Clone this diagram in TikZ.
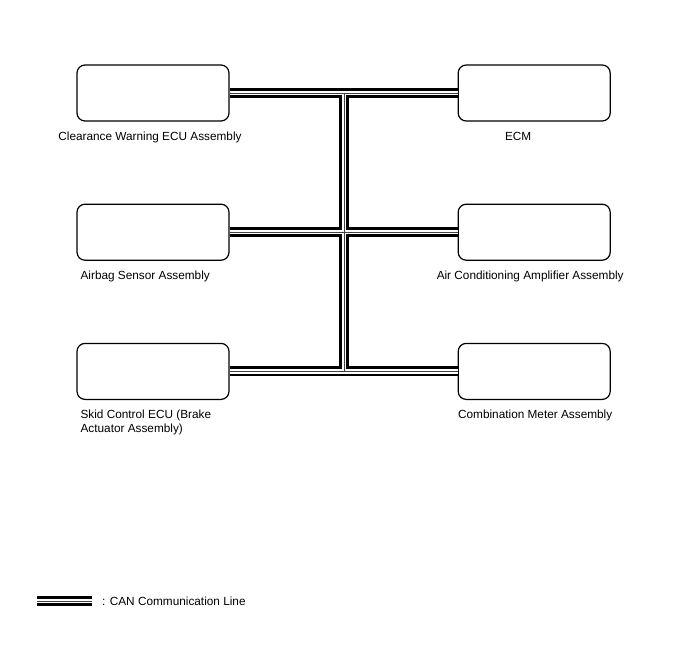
\documentclass[tikz,border=0pt]{standalone}
\usepackage{fontspec}
\setmainfont{Liberation Sans}
\usetikzlibrary{positioning}

\begin{document}
\begin{tikzpicture}[x=1pt,y=-1pt,node distance=82pt and 228pt]
  \tikzstyle{box}=[draw,line width=1.2pt,rounded corners=8pt,minimum width=152pt,minimum height=56pt,inner sep=0pt]
  \tikzstyle{lbl}=[inner sep=1pt,font=\fontsize{11.8}{14}\selectfont,align=left]
  \tikzstyle{can}=[preaction={draw,black,line width=10pt},preaction={draw,white,line width=4.4pt},draw=black!75,line width=0.8pt]
  \useasboundingbox (0,0) rectangle (688,658);
  % ECUs
  \node[box] (cw) at (153,93) {};
  \node[box,below=of cw] (ab) {};
  \node[box,below=of ab] (sk) {};
  \node[box,right=of cw] (ecm) {};
  \node[box,right=of ab] (ac) {};
  \node[box,right=of sk] (cm) {};
  % names
  \node[lbl,below=9pt of cw,xshift=-3pt] (cwl) {Clearance Warning ECU Assembly};
  \node[lbl,below=9pt of ecm,xshift=-16pt] (ecml) {ECM};
  \node[lbl,anchor=north west] (abl) at ([xshift=3pt,yshift=-9pt]ab.south west) {Airbag Sensor Assembly};
  \node[lbl,below=9pt of ac,xshift=-4pt] (acl) {Air Conditioning Amplifier Assembly};
  \node[lbl,anchor=north west] (skl) at ([xshift=3pt,yshift=-9pt]sk.south west) {Skid Control ECU (Brake\\Actuator Assembly)};
  \node[lbl,below=9pt of cm,xshift=1pt] (cml) {Combination Meter Assembly};
  % CAN bus
  \coordinate (trunk) at (344,0);
  \draw[can] (cw.east) -- (ecm.west) (ab.east) -- (ac.west) (sk.east) -- (cm.west)
    (cw.east -| trunk) -- (sk.east -| trunk);
  % legend
  \coordinate (lga) at (37,601);
  \node[lbl,anchor=west] (lgt) at (101,601) {: CAN Communication Line};
  \draw[can] (lga) -- ([xshift=-9pt]lgt.west);
\end{tikzpicture}
\end{document}
